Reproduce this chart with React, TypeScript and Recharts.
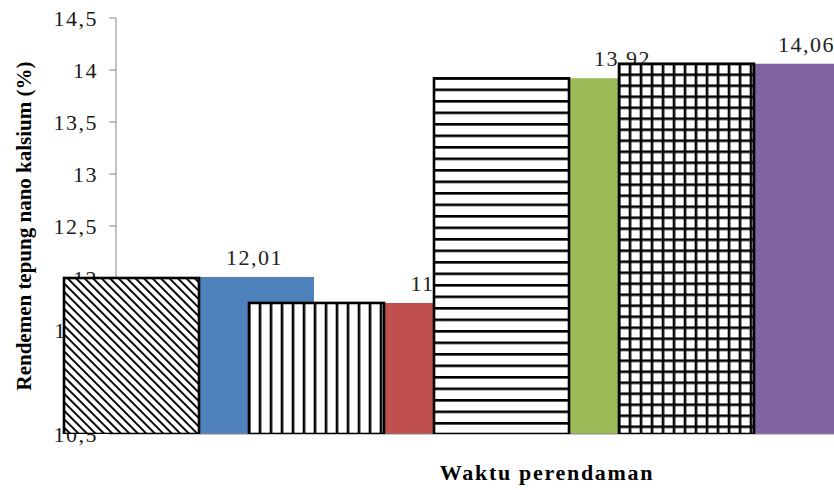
import { BarChart, Bar, XAxis, YAxis, Cell, LabelList, Label } from 'recharts';

// Waktu perendaman (x axis has no tick labels in the picture)
const categories = ['1', '2', '3', '4'];
// coloured bars
const rendemen = [12.01, 11.76, 13.92, 14.06];
// patterned bars drawn over them
const rendemenPola = [12.0, 11.76, 13.92, 14.06];
const yTicks = [10.5, 11, 11.5, 12, 12.5, 13, 13.5, 14, 14.5];

const colors = ['#4F81BD', '#C0504D', '#9BBB59', '#8064A2'];
const patterns = ['diag', 'vert', 'horiz', 'grid'];

const data = categories.map((c, i) => ({
  cat: c,
  nilai: rendemen[i],
  pola: rendemenPola[i],
}));

const serif = '"Liberation Serif", "Times New Roman", serif';
const comma = (v: number) => String(v).replace('.', ',');

const PatternRect = (props: any) => {
  const { x, y, width, height, index } = props;
  const kind = patterns[index];
  const id = `pola-${index}`;
  const s = 11;
  const lw = 2.6;
  let def;
  if (kind === 'diag') {
    def = (
      <pattern id={id} patternUnits='userSpaceOnUse' width={6} height={6} patternTransform='rotate(-45)'>
        <rect width={6} height={6} fill='#fff' />
        <rect width={1.9} height={6} fill='#000' />
      </pattern>
    );
  } else if (kind === 'vert') {
    def = (
      <pattern id={id} patternUnits='userSpaceOnUse' x={x - lw / 2} y={0} width={s} height={s}>
        <rect width={s} height={s} fill='#fff' />
        <rect width={lw} height={s} fill='#000' />
      </pattern>
    );
  } else if (kind === 'horiz') {
    def = (
      <pattern id={id} patternUnits='userSpaceOnUse' x={0} y={y - lw / 2} width={11.5} height={11.5}>
        <rect width={11.5} height={11.5} fill='#fff' />
        <rect width={11.5} height={lw} fill='#000' />
      </pattern>
    );
  } else {
    def = (
      <pattern id={id} patternUnits='userSpaceOnUse' x={x - lw / 2} y={y - lw / 2} width={s} height={s}>
        <rect width={s} height={s} fill='#fff' />
        <rect width={lw} height={s} fill='#000' />
        <rect width={s} height={lw} fill='#000' />
      </pattern>
    );
  }
  return (
    <g>
      <defs>{def}</defs>
      <rect x={x} y={y} width={width} height={height} fill={`url(#${id})`} stroke='#000' strokeWidth={2.6} />
    </g>
  );
};

const YTitle = (props: any) => {
  const vb = props.viewBox || { x: 0, y: 18, width: 116, height: 416 };
  const cx = vb.x + 24;
  const cy = vb.y + vb.height / 2;
  return (
    <text
      x={cx}
      y={cy}
      transform={`rotate(-90, ${cx}, ${cy})`}
      textAnchor='middle'
      dominantBaseline='central'
      fontFamily={serif}
      fontWeight='bold'
      fontSize={21}
      fill='#000'
    >
      Rendemen tepung nano kalsium (%)
    </text>
  );
};

const XTitle = (props: any) => {
  const vb = props.viewBox || { x: 116, y: 434, width: 718, height: 56 };
  return (
    <text
      x={vb.x + vb.width / 2 + 72}
      y={vb.y + 38}
      textAnchor='middle'
      dominantBaseline='central'
      fontFamily={serif}
      fontWeight='bold'
      fontSize={22}
      letterSpacing={1.7}
      fill='#000'
    >
      Waktu perendaman
    </text>
  );
};

export default function App() {
  return (
    <div style={{ position: 'absolute', left: 0, top: 0 }}>
      <BarChart width={834} height={490} data={data} margin={{ top: 18, right: 0, bottom: 0, left: 0 }}>
        <YAxis
          type='number'
          width={116}
          domain={[10.5, 14.5]}
          ticks={yTicks}
          interval={0}
          allowDataOverflow
          tickFormatter={comma}
          axisLine={{ stroke: '#868686' }}
          tickLine={{ stroke: '#868686' }}
          tickSize={7}
          tickMargin={11}
          tick={{ fontFamily: serif, fontSize: 22, fill: '#1a1a1a', letterSpacing: 1.5 }}
        >
          <Label content={<YTitle />} />
        </YAxis>
        <XAxis
          xAxisId='pola'
          dataKey='cat'
          tick={false}
          tickLine={false}
          axisLine={{ stroke: '#868686' }}
          height={56}
          padding={{ left: -77, right: 55 }}
        >
          <Label content={<XTitle />} />
        </XAxis>
        <XAxis xAxisId='warna' dataKey='cat' hide padding={{ left: 46, right: -64 }} />
        <Bar xAxisId='warna' dataKey='nilai' barSize={119} isAnimationActive={false}>
          {data.map((d, i) => (
            <Cell key={d.cat} fill={colors[i]} />
          ))}
          <LabelList
            dataKey='nilai'
            position='top'
            offset={12}
            formatter={(v: any) => comma(v)}
            style={{ fontFamily: serif, fontSize: 22, fill: '#222', letterSpacing: 1.5 }}
          />
        </Bar>
        <Bar
          xAxisId='pola'
          dataKey='pola'
          barSize={135}
          shape={<PatternRect />}
          isAnimationActive={false}
          zIndex={2500}
        />
      </BarChart>
    </div>
  );
}
